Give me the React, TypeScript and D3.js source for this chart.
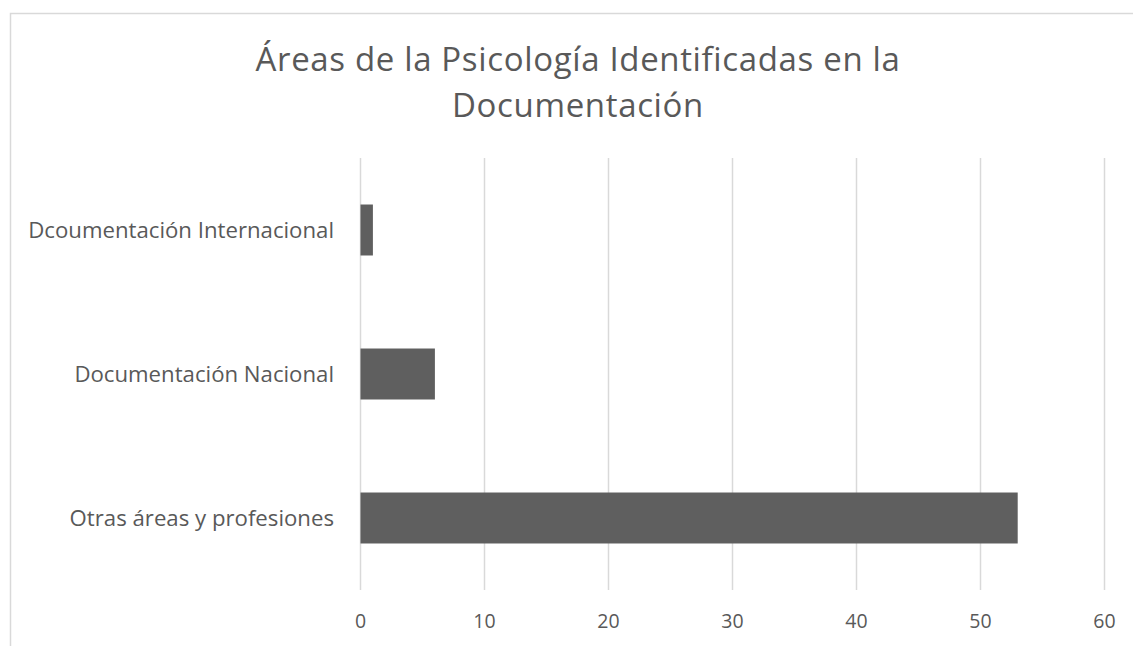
import React from "react";
import * as d3 from "d3";

const categories = ["Dcoumentación Internacional", "Documentación Nacional", "Otras áreas y profesiones"];
const values = [1, 6, 53];
const xTicks = [0, 10, 20, 30, 40, 50, 60];
const titleLines = ["Áreas de la Psicología Identificadas en la", "Documentación"];

export default function App() {
  const W = 1133, H = 646;
  const left = 360.5, right = 1104.5, top = 158, bottom = 590;
  const x = d3.scaleLinear().domain([0, 60]).range([left, right]);
  const y = d3.scaleBand<string>().domain(categories).range([top, bottom]).paddingInner(0.646).paddingOuter(0.323);
  const font = "'Open Sans', sans-serif";
  const textColor = "#595959";
  return (
    <svg width={W} height={H} style={{ position: "fixed", left: 0, top: 0, background: "#fff" }} fontFamily={font}>
      <rect x={10.5} y={13.5} width={W + 20} height={H + 20} fill="#fff" stroke="#d9d9d9" strokeWidth={1.5} />
      {titleLines.map((t, i) => (
        <text key={i} x={578} y={71 + i * 45.5} textAnchor="middle" fontSize={33} letterSpacing={0.65} fill={textColor}>{t}</text>
      ))}
      {xTicks.map((t) => (
        <line key={t} x1={x(t)} x2={x(t)} y1={top} y2={bottom} stroke="#d9d9d9" strokeWidth={1.5} />
      ))}
      {categories.map((c, i) => (
        <rect key={c} x={x(0)} y={y(c)!} width={x(values[i]) - x(0)} height={y.bandwidth()} fill="#5f5f5f" />
      ))}
      {categories.map((c) => (
        <text key={c} x={334} y={y(c)! + y.bandwidth() / 2} dy="0.35em" textAnchor="end" fontSize={22.2} fill={textColor}>{c}</text>
      ))}
      {xTicks.map((t) => (
        <text key={t} x={x(t)} y={628} textAnchor="middle" fontSize={19.5} fill={textColor}>{t}</text>
      ))}
    </svg>
  );
}
